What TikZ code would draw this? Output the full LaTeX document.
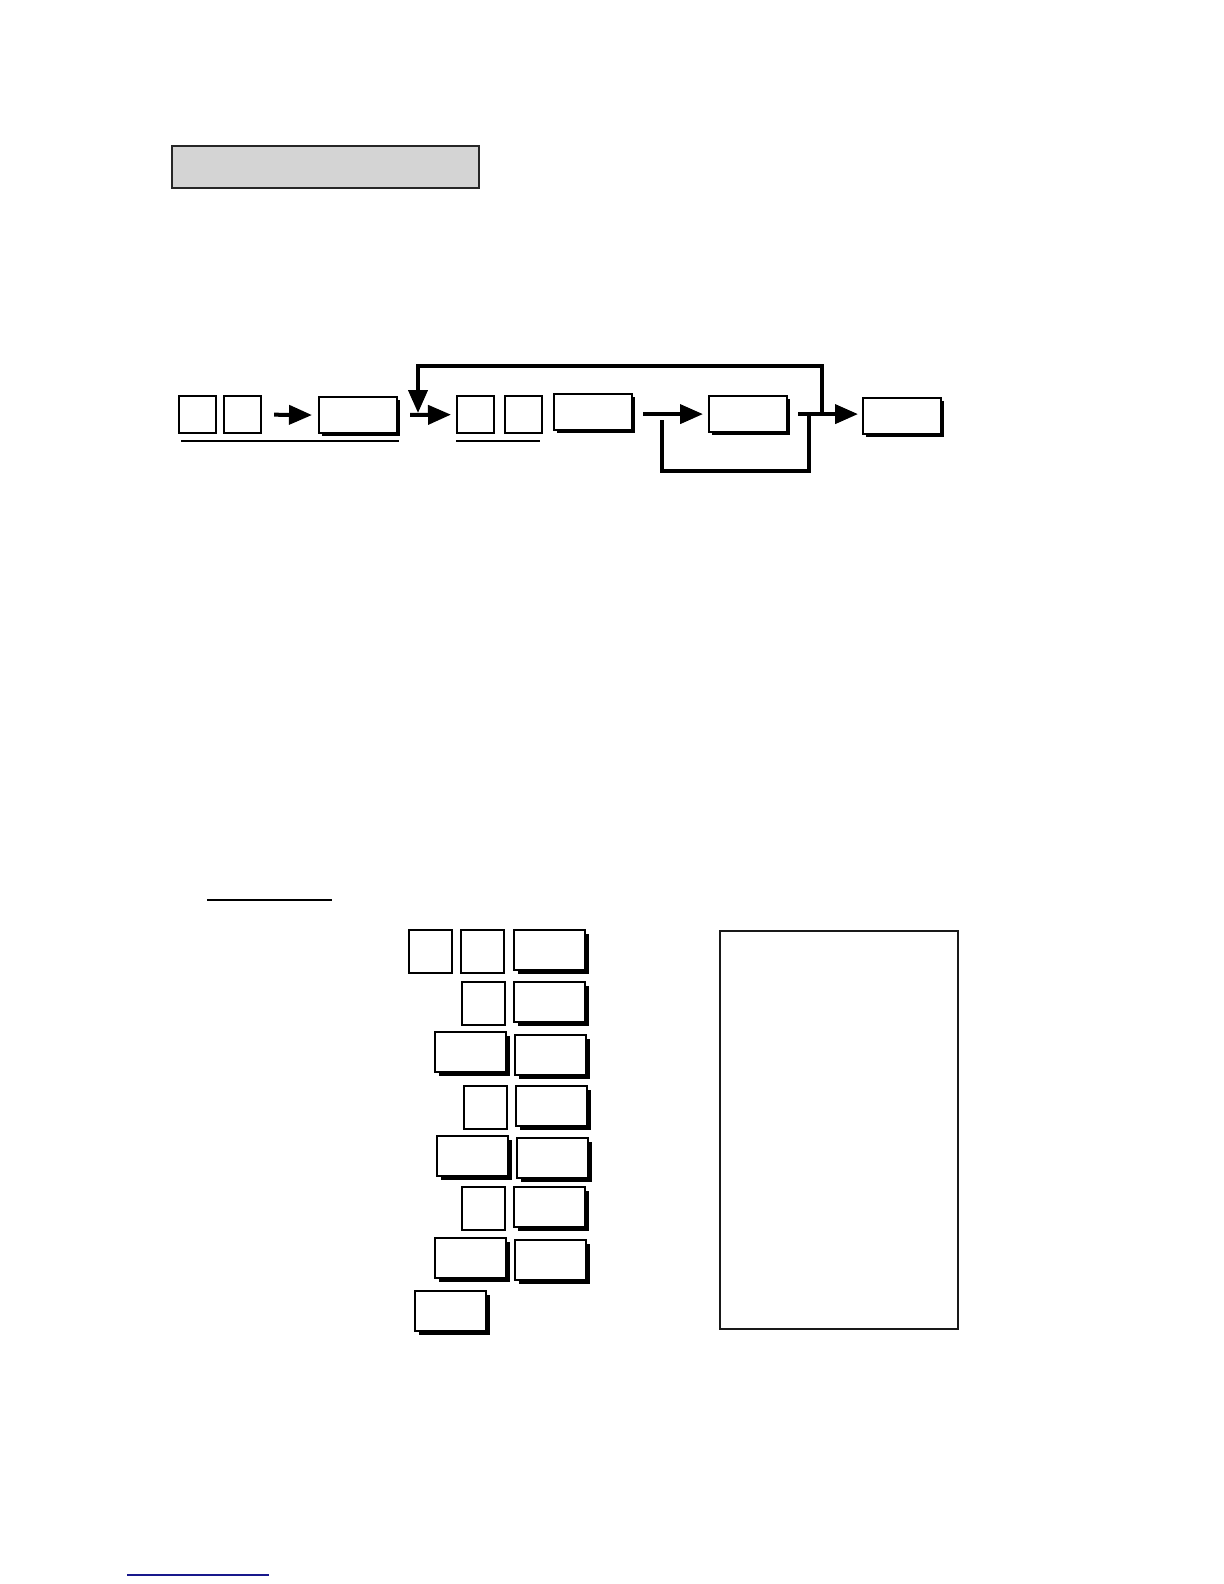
\documentclass[tikz,border=0pt]{standalone}
\usetikzlibrary{calc,arrows.meta,shadows}
\definecolor{headgray}{RGB}{212,212,212}
\definecolor{linkblue}{RGB}{24,24,140}

\begin{document}
\begin{tikzpicture}[x=0.5pt, y=-0.5pt,
  keysq/.style={draw, fill=white, line width=1.1pt, inner sep=0pt, anchor=north west, minimum width=18.5pt, minimum height=18.5pt},
  keybox/.style={keysq, minimum width=39pt, minimum height=18pt, drop shadow={shadow xshift=1.5pt, shadow yshift=-1.5pt, fill=black, opacity=1}},
  padsq/.style={draw, fill=white, line width=0.8pt, inner sep=0pt, anchor=north west, minimum width=21.5pt, minimum height=21.5pt},
  padbox/.style={padsq, minimum width=35.5pt, minimum height=20pt, drop shadow={shadow xshift=2.2pt, shadow yshift=-2.2pt, fill=black, opacity=1}},
  flow/.style={line width=2pt, -{Triangle[length=11.5pt, width=9.5pt]}}]
\useasboundingbox (0, 0) rectangle (1224, 1584);

\node [draw, color=black!85, fill=headgray, line width=1.1pt, inner sep=0pt, anchor=north west, minimum width=153.5pt, minimum height=21pt] (title) at (171, 145) {};

\node [keysq] (P1) at (178, 395) {};
\node [keysq] (P2) at (223, 395) {};
\node [keybox] (P3) at (318, 396) {};
\node [keysq] (Q1) at (456, 395) {};
\node [keysq] (Q2) at (504, 395) {};
\node [keybox] (Q3) at (553, 393) {};
\node [keybox] (S) at (708, 395) {};
\node [keybox] (T) at (862, 397) {};
\draw [line width=1.2pt] (181, 441) -- (399, 441);
\draw [line width=1.2pt] (456, 441) -- (540, 441);

\draw [flow, shorten <=6pt, shorten >=3pt] (P2.east) -- (P3.west);
\draw [flow, shorten <=6pt, shorten >=2.5pt] (P3.east) -- (Q1.west);
\draw [flow, shorten <=5pt, shorten >=2.5pt] (S.west -| Q3.east) -- (S.west);
\draw [flow, shorten <=5pt, shorten >=2pt] (S.east) -- (S.east -| T.west);

\coordinate (loopS) at (662, 420);
\coordinate (loopB) at (662, 471);
\coordinate (jD) at (809, 413);
\draw [line width=2pt] (loopS) -- (loopB) -| (jD);

\coordinate (jT) at (822, 413);
\coordinate (fbTop) at (822, 366);
\coordinate (fbIn) at (418, 413);
\draw [flow] (jT) -- (fbTop) -| (fbIn);

\draw [line width=0.7pt] (207, 900) -- (332, 900);

\node [padsq] (A1) at (408, 929) {};
\node [padsq] (A2) at (460, 929) {};
\node [padbox] (A3) at (513, 929) {};
\node [padsq] (B2) at (461, 981) {};
\node [padbox] (B3) at (513, 981) {};
\node [padbox] (C2) at (434, 1031) {};
\node [padbox] (C3) at (514, 1034) {};
\node [padsq] (D2) at (463, 1085) {};
\node [padbox] (D3) at (515, 1085) {};
\node [padbox] (E2) at (436, 1135) {};
\node [padbox] (E3) at (516, 1137) {};
\node [padsq] (F2) at (461, 1186) {};
\node [padbox] (F3) at (513, 1186) {};
\node [padbox] (G2) at (434, 1237) {};
\node [padbox] (G3) at (514, 1239) {};
\node [padbox] (H1) at (414, 1290) {};

\node [draw, color=black!90, line width=1pt, inner sep=0pt, anchor=north west, minimum width=119pt, minimum height=199pt] (panel) at (719, 930) {};

\draw [line width=0.7pt, color=linkblue] (127, 1575) -- (269, 1575);
\end{tikzpicture}
\end{document}
